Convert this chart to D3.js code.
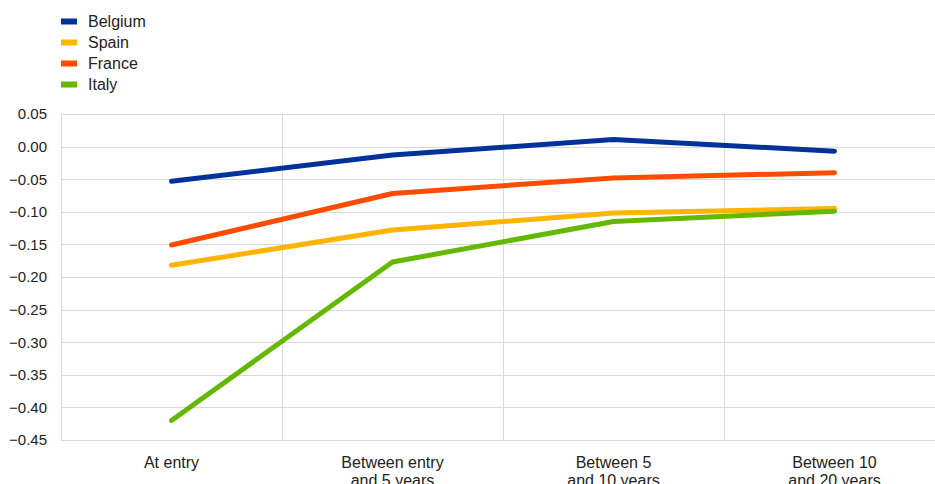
<!DOCTYPE html>
<html><head><meta charset="utf-8">
<script src="https://cdn.jsdelivr.net/npm/d3@7"></script>
<style>
html,body{margin:0;padding:0;background:#fff;}
svg{display:block;font-family:"Liberation Sans",Arial,sans-serif;}
</style></head><body>
<svg id="chart" width="935" height="484"></svg>
<script>
const categories = ["At entry", "Between entry\nand 5 years", "Between 5\nand 10 years", "Between 10\nand 20 years"];
const seriesNames = ["Belgium", "Spain", "France", "Italy"];
const seriesColors = ["#003299", "#FFB400", "#FF4B00", "#65B800"];
const belgium = [-0.053, -0.013, 0.011, -0.007];
const spain = [-0.182, -0.128, -0.102, -0.095];
const france = [-0.151, -0.072, -0.048, -0.040];
const italy = [-0.420, -0.177, -0.115, -0.099];
const yTicks = [0.05, 0.00, -0.05, -0.10, -0.15, -0.20, -0.25, -0.30, -0.35, -0.40, -0.45];

const seriesData = [belgium, spain, france, italy];
const svg = d3.select("#chart");
const pLeft = 61, pRight = 945, pTop = 114, pBottom = 440;

const x = d3.scaleBand().domain(categories).range([pLeft, pRight]).paddingInner(0).paddingOuter(0);
const y = d3.scaleLinear().domain([-0.45, 0.05]).range([pBottom, pTop]);

// horizontal gridlines
svg.append("g").selectAll("line").data(yTicks).join("line")
  .attr("x1", pLeft).attr("x2", 935)
  .attr("y1", d => Math.round(y(d)) + 0.5).attr("y2", d => Math.round(y(d)) + 0.5)
  .attr("stroke", "#d9d9d9").attr("stroke-width", 1);

// vertical gridlines between categories
svg.append("g").selectAll("line").data(categories.slice(1)).join("line")
  .attr("x1", d => Math.round(x(d)) + 0.5).attr("x2", d => Math.round(x(d)) + 0.5)
  .attr("y1", pTop).attr("y2", pBottom)
  .attr("stroke", "#d9d9d9").attr("stroke-width", 1);

// left axis line
svg.append("line").attr("x1", pLeft + 0.5).attr("x2", pLeft + 0.5).attr("y1", pTop).attr("y2", pBottom)
  .attr("stroke", "#d9d9d9").attr("stroke-width", 1);

// y axis labels
const yAxis = d3.axisLeft(y).tickValues(yTicks).tickFormat(d3.format(".2f")).tickSize(0).tickPadding(14);
const ga = svg.append("g").attr("transform", `translate(${pLeft},0)`).call(yAxis);
ga.select(".domain").remove();
ga.selectAll("text").attr("font-size", 15).attr("fill", "#222").attr("font-family", "Liberation Sans, Arial, sans-serif");

// x labels
const xl = svg.append("g").selectAll("text").data(categories).join("text")
  .attr("x", d => x(d) + x.bandwidth() / 2)
  .attr("text-anchor", "middle")
  .attr("font-size", 16).attr("fill", "#222");
xl.each(function(d) {
  const lines = d.split("\n");
  d3.select(this).selectAll("tspan").data(lines).join("tspan")
    .attr("x", x(d) + x.bandwidth() / 2)
    .attr("y", (l, i) => 467.5 + i * 18)
    .text(l => l);
});

// lines
const line = d3.line().x((v, i) => x(categories[i]) + x.bandwidth() / 2).y(v => y(v));
svg.append("g").selectAll("path").data(seriesData).join("path")
  .attr("d", d => line(d))
  .attr("fill", "none")
  .attr("stroke", (d, i) => seriesColors[i])
  .attr("stroke-width", 5)
  .attr("stroke-linecap", "round")
  .attr("stroke-linejoin", "round");

// legend
const lg = svg.append("g").selectAll("g").data(seriesNames).join("g")
  .attr("transform", (d, i) => `translate(61,${21.5 + i * 21})`);
lg.append("rect").attr("x", 0).attr("y", -3).attr("width", 16).attr("height", 6)
  .attr("fill", (d, i) => seriesColors[i]);
lg.append("text").attr("x", 27).attr("y", 0).attr("dy", "0.35em")
  .attr("font-size", 16).attr("fill", "#222").text(d => d);
</script>
</body></html>
